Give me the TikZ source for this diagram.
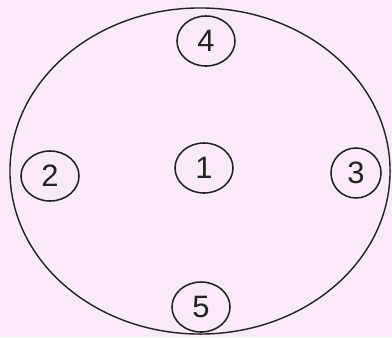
\documentclass[tikz,border=0pt]{standalone}
\usepackage{fontspec}
\setsansfont{Liberation Sans}
\usepackage{xcolor}
\definecolor{paper}{RGB}{248,234,248}
\definecolor{ink}{RGB}{35,35,35}
\usepackage{tikz}
\usetikzlibrary{shapes.geometric, positioning}

\begin{document}
\begin{tikzpicture}[
    x=0.025cm, y=-0.025cm,
    font=\sffamily\fontsize{22}{24}\selectfont,
    spotnode/.style={draw=ink, ellipse, line width=1.1pt, minimum width=1.45cm, minimum height=1.25cm, inner sep=0pt, text=ink},
    ringnode/.style={draw=ink, ellipse, line width=1pt, minimum width=9.5cm, minimum height=8.15cm, inner sep=0pt}
  ]
  \fill[paper] (0,0) rectangle (392,337);
  \useasboundingbox (0,0) rectangle (392,337);

  \node (ring) [ringnode] at (200,171) {};

  \node (centre) [spotnode] at (204,168) {1};
  \node (left) [spotnode] at (50,176) {2};
  \node (right) [spotnode, minimum width=1.25cm] at (356,173) {3};
  \node (top) [spotnode] at (206,41) {4};
  \node (bottom) [spotnode] at (201,307) {5};

\end{tikzpicture}
\end{document}
